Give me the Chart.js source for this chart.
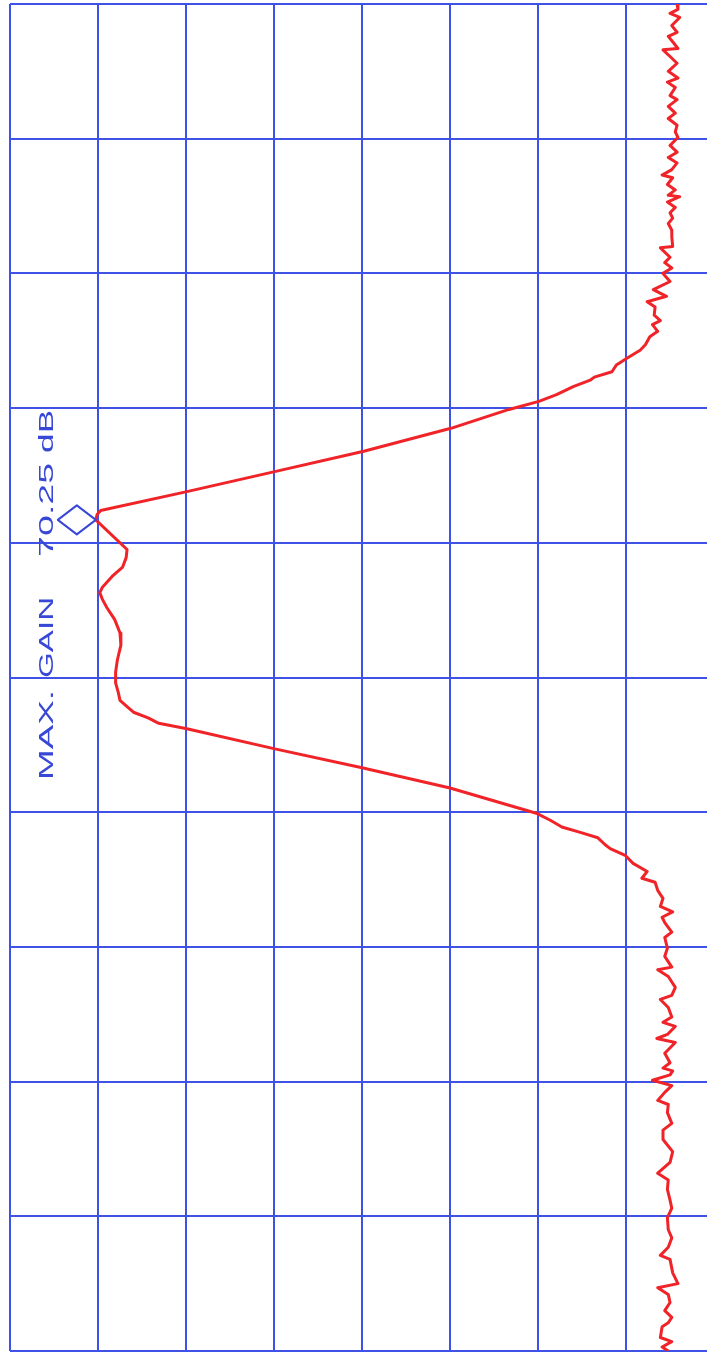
<!DOCTYPE html>
<html>
<head>
<meta charset="utf-8">
<script src="https://cdn.jsdelivr.net/npm/chart.js@4.4.1/dist/chart.umd.min.js"></script>
<style>
  html, body { margin: 0; padding: 0; background: #ffffff; overflow: hidden; }
  canvas { display: block; }
</style>
</head>
<body>
<canvas id="trace" width="707" height="1353"></canvas>
<script>
// Frequency position of each trace sample, in screen divisions (0 = bottom edge, 10 = top edge)
const freqDiv = [
  10.00, 9.96, 9.93, 9.90, 9.84, 9.79, 9.76, 9.72, 9.67, 9.66,
  9.61, 9.56, 9.50, 9.45, 9.42, 9.38, 9.32, 9.29, 9.24, 9.19,
  9.15, 9.10, 9.05, 9.01, 8.95, 8.90, 8.86, 8.82, 8.77, 8.73,
  8.71, 8.66, 8.62, 8.58, 8.57, 8.53, 8.49, 8.45, 8.41, 8.37,
  8.32, 8.27, 8.20, 8.19, 8.12, 8.08, 8.04, 8.00, 7.94, 7.88,
  7.83, 7.79, 7.75, 7.69, 7.65, 7.62, 7.57, 7.53, 7.47, 7.43,
  7.37, 7.32, 7.27, 7.23, 7.21, 7.16, 7.10, 7.05, 6.99, 6.85,
  6.68, 6.53, 6.38, 6.24, 6.21, 6.17, 5.95, 5.89, 5.82, 5.75,
  5.67, 5.63, 5.58, 5.52, 5.43, 5.33, 5.24, 5.13, 5.04, 4.96,
  4.89, 4.83, 4.79, 4.74, 4.70, 4.66, 4.62, 4.47, 4.33, 4.18,
  3.99, 3.94, 3.89, 3.85, 3.81, 3.76, 3.73, 3.68, 3.62, 3.56,
  3.51, 3.48, 3.42, 3.36, 3.30, 3.26, 3.22, 3.18, 3.11, 3.07,
  2.99, 2.93, 2.85, 2.83, 2.78, 2.70, 2.64, 2.61, 2.55, 2.48,
  2.44, 2.41, 2.35, 2.32, 2.29, 2.21, 2.14, 2.10, 2.08, 2.05,
  2.01, 1.97, 1.92, 1.86, 1.83, 1.77, 1.69, 1.64, 1.57, 1.48,
  1.40, 1.32, 1.27, 1.20, 1.12, 1.06, 0.99, 0.90, 0.84, 0.77,
  0.71, 0.68, 0.58, 0.50, 0.47, 0.42, 0.36, 0.30, 0.25, 0.21,
  0.18, 0.10, 0.07, 0.03, 0.00
];

// Measured gain (dB) at each sample
const gainDb = [
  4.2, 4.1, 5.0, 3.9, 4.8, 4.2, 5.2, 4.7, 4.1, 5.8,
  5.0, 4.2, 5.2, 4.1, 5.3, 4.4, 5.0, 4.2, 5.2, 4.4,
  5.2, 4.2, 4.4, 4.1, 5.0, 4.2, 5.2, 4.2, 4.8, 5.9,
  4.7, 5.3, 4.4, 5.2, 3.9, 5.3, 4.4, 5.0, 4.7, 5.2,
  4.8, 4.8, 4.7, 6.1, 5.0, 5.6, 4.8, 5.8, 5.0, 6.9,
  5.4, 7.6, 6.7, 6.8, 6.1, 7.0, 6.4, 7.3, 7.8, 8.4,
  9.9, 11.1, 11.6, 13.6, 14.0, 16.0, 17.9, 19.9, 23.3, 29.9,
  39.8, 49.8, 59.9, 69.7, 70.1, 70.25, 66.7, 66.8, 67.2, 68.4,
  69.5, 69.8, 69.5, 69.0, 68.1, 67.5, 67.4, 67.8, 68.0, 68.0,
  67.7, 67.5, 66.8, 65.9, 64.3, 63.1, 59.9, 49.9, 40.0, 30.0,
  20.1, 18.6, 17.3, 15.2, 13.2, 12.4, 11.8, 10.1, 9.2, 7.6,
  8.2, 6.7, 6.4, 5.8, 6.1, 4.7, 5.9, 5.6, 4.8, 5.6,
  5.3, 5.6, 4.8, 6.4, 5.2, 4.4, 4.8, 6.1, 5.2, 4.8,
  5.8, 4.4, 5.3, 6.5, 4.4, 5.6, 5.0, 5.8, 4.7, 5.0,
  7.0, 4.8, 5.6, 6.4, 5.2, 5.3, 4.8, 5.8, 5.8, 4.7,
  5.0, 6.4, 5.2, 5.3, 5.0, 4.8, 5.3, 5.2, 4.8, 5.2,
  6.1, 5.0, 4.7, 4.1, 6.4, 5.2, 5.0, 5.6, 4.8, 5.2,
  5.9, 6.1, 4.8, 5.9, 5.2
];

// Graticule positions
const gainGrid = [80, 70, 60, 50, 40, 30, 20, 10];   // dB, 10 dB per division
const freqGrid = [0, 1, 2, 3, 4, 5, 6, 7, 8, 9, 10];   // frequency divisions

const GRID_BLUE = 'rgb(62, 82, 232)';
const INK_BLUE = 'rgb(56, 72, 214)';
const TRACE_RED = 'rgb(240, 36, 40)';

const points = freqDiv.map((f, i) => ({ x: gainDb[i], y: f }));

let peakIdx = 0;
gainDb.forEach((g, i) => { if (g > gainDb[peakIdx]) peakIdx = i; });

// Diamond marker on the maximum and its hand-lettered note
const maxGainMarker = {
  id: 'maxGainMarker',
  afterDatasetsDraw(chart) {
    const { ctx, scales } = chart;
    const px = scales.x.getPixelForValue(gainDb[peakIdx]);
    const py = scales.y.getPixelForValue(freqDiv[peakIdx]);

    ctx.save();
    ctx.strokeStyle = INK_BLUE;
    ctx.lineWidth = 2;
    ctx.lineJoin = 'round';
    ctx.beginPath();
    ctx.moveTo(px, py);
    ctx.lineTo(px - 19, py - 14.5);
    ctx.lineTo(px - 38, py);
    ctx.lineTo(px - 19, py + 14.5);
    ctx.closePath();
    ctx.stroke();

    // words read upward along the left margin: [text, start below peak, length]
    const words = [
      ['MAX.', 260, 90],
      ['GAIN', 158, 81],
      [gainDb[peakIdx].toFixed(2), 37, 94],
      ['dB', -67, 43]
    ];
    ctx.fillStyle = INK_BLUE;
    ctx.font = '21px "Liberation Sans"';
    ctx.textAlign = 'left';
    ctx.textBaseline = 'alphabetic';
    for (const [w, start, len] of words) {
      ctx.save();
      ctx.translate(px - 43, py + start);
      ctx.rotate(-Math.PI / 2);
      const m = ctx.measureText(w).width;
      ctx.scale(len / m, 1);
      ctx.fillText(w, 0, 0);
      ctx.restore();
    }
    ctx.restore();
  }
};

new Chart(document.getElementById('trace'), {
  type: 'scatter',
  data: {
    datasets: [{
      data: points,
      showLine: true,
      borderColor: TRACE_RED,
      borderWidth: 3,
      borderJoinStyle: 'round',
      pointRadius: 0,
      pointHoverRadius: 0,
      tension: 0,
      fill: false
    }]
  },
  options: {
    responsive: false,
    animation: false,
    devicePixelRatio: 1,
    events: [],
    layout: { padding: { left: 10, top: 4, right: 0, bottom: 2 } },
    plugins: { legend: { display: false }, tooltip: { enabled: false } },
    scales: {
      x: {
        type: 'linear',
        reverse: true,
        min: 0.8,
        max: 80,
        afterBuildTicks: s => { s.ticks = gainGrid.map(v => ({ value: v })); },
        ticks: { display: false },
        border: { display: false },
        grid: { color: GRID_BLUE, lineWidth: 2, drawTicks: false }
      },
      y: {
        type: 'linear',
        min: 0,
        max: 10,
        afterBuildTicks: s => { s.ticks = freqGrid.map(v => ({ value: v })); },
        ticks: { display: false },
        border: { display: false },
        grid: { color: GRID_BLUE, lineWidth: 2, drawTicks: false }
      }
    }
  },
  plugins: [maxGainMarker]
});
</script>
</body>
</html>
